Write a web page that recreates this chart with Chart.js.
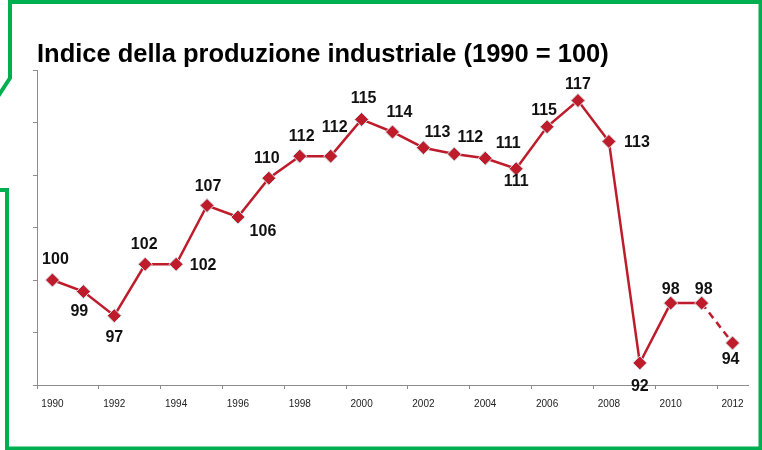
<!DOCTYPE html>
<html>
<head>
<meta charset="utf-8">
<script src="https://cdn.jsdelivr.net/npm/chart.js@4.4.1/dist/chart.umd.min.js"></script>
<style>
  html, body { margin: 0; padding: 0; background: #fff; }
</style>
</head>
<body>
<canvas id="chart" width="762" height="450"></canvas>
<script>
const years = [
  "1990", "1991", "1992", "1993", "1994", "1995", "1996", "1997",
  "1998", "1999", "2000", "2001", "2002", "2003", "2004", "2005",
  "2006", "2007", "2008", "2009", "2010", "2011", "2012",
];
const values = [
  100, 98.9, 96.6, 101.5, 101.5, 107.1, 106.0, 109.7,
  111.8, 111.8, 115.3, 114.1, 112.6, 112.0, 111.6, 110.6,
  114.6, 117.1, 113.2, 92.1, 97.8, 97.8, 94.0,
];
const valueLabels = [
  "100", "99", "97", "102", "102", "107", "106", "110",
  "112", "112", "115", "114", "113", "112", "111", "111",
  "115", "117", "113", "92", "98", "98", "94",
];
// first year of the estimated (dashed) part
const estimateFrom = "2011";

// where each value label sits relative to its point (px)
const labelOffsets = [
  [3, -20], [-4, 20], [0, 22], [-1, -20], [27, 1], [1, -19], [25, 15], [-2, -20],
  [2, -20], [4, -29], [2, -21], [7, -19], [14, -15], [16, -16], [23, -15], [0, 13],
  [-3, -16], [0, -16], [28, 1], [0, 24], [0, -14], [2, -14], [-2, 17],
];

const lineColor = "#be1b2b";
const axisColor = "#8c8c8c";
const fontFamily = "'Liberation Sans', Arial, sans-serif";

Chart.defaults.font.family = fontFamily;

const pointLabels = {
  id: "pointLabels",
  afterDatasetsDraw(chart) {
    const ctx = chart.ctx;
    const meta = chart.getDatasetMeta(0);
    ctx.save();
    ctx.font = "bold 16px " + fontFamily;
    ctx.fillStyle = "#111";
    ctx.textAlign = "center";
    ctx.textBaseline = "middle";
    meta.data.forEach((pt, i) => {
      const [dx, dy] = labelOffsets[i];
      ctx.fillText(valueLabels[i], pt.x + dx, pt.y + dy);
    });
    ctx.restore();
  },
};

// green slide frame with the notch on the left
const frame = {
  id: "frame",
  afterDraw(chart) {
    const ctx = chart.ctx;
    ctx.save();
    ctx.strokeStyle = "#00b050";
    ctx.lineWidth = 4;
    ctx.beginPath();
    ctx.moveTo(-3, 98);
    ctx.lineTo(10, 78);
    ctx.lineTo(10, 2);
    ctx.lineTo(760.5, 2);
    ctx.lineTo(760.5, 448.5);
    ctx.lineTo(7, 448.5);
    ctx.lineTo(7, 190);
    ctx.lineTo(-3, 190);
    ctx.stroke();
    ctx.restore();
  },
};

new Chart(document.getElementById("chart"), {
  type: "line",
  data: {
    labels: years,
    datasets: [
      {
        data: values,
        borderColor: lineColor,
        borderWidth: 2.5,
        tension: 0,
        pointStyle: "rectRot",
        pointRadius: 7,
        pointBackgroundColor: lineColor,
        pointBorderColor: "#d3e6ec",
        pointBorderWidth: 1,
        segment: {
          borderDash: (ctx) =>
            years[ctx.p0DataIndex] >= estimateFrom ? [7, 5] : undefined,
        },
      },
    ],
  },
  options: {
    responsive: false,
    animation: false,
    devicePixelRatio: 1,
    layout: { padding: { left: 37, right: 14, top: 0, bottom: 0 } },
    plugins: {
      legend: { display: false },
      tooltip: { enabled: false },
      title: {
        display: true,
        text: "Indice della produzione industriale (1990 = 100)",
        align: "start",
        color: "#000",
        font: { size: 25.5, weight: "bold", lineHeight: 1.1 },
        padding: { top: 41, bottom: 1 },
      },
    },
    scales: {
      x: {
        offset: true,
        grid: {
          offset: true,
          drawOnChartArea: false,
          tickLength: 4,
          tickColor: (ctx) => (ctx.index % 2 === 0 ? axisColor : "transparent"),
        },
        border: { color: axisColor },
        ticks: {
          autoSkip: false,
          maxRotation: 0,
          padding: 9,
          color: "#222",
          font: { size: 10 },
          callback: (v, i) => (i % 2 === 0 ? years[i] : ""),
        },
        afterFit: (s) => {
          s.height = 65;
        },
      },
      y: {
        min: 90,
        max: 120,
        ticks: { stepSize: 5, display: false },
        grid: { drawOnChartArea: false, tickLength: 4, color: axisColor },
        border: { color: axisColor },
        afterFit: (s) => {
          s.width = 0;
        },
      },
    },
  },
  plugins: [pointLabels, frame],
});
</script>
</body>
</html>
